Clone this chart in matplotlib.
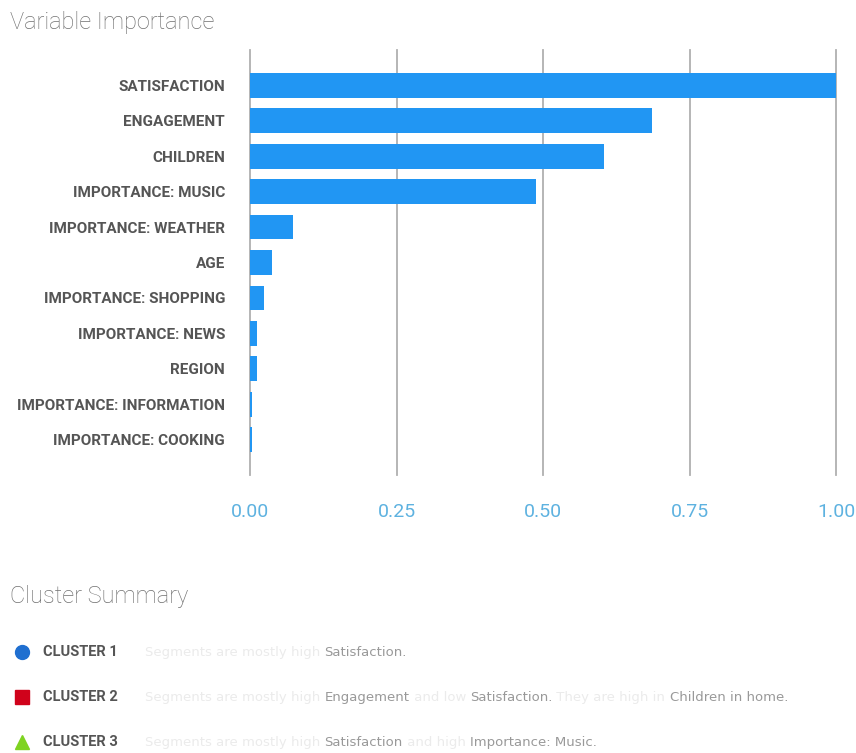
import matplotlib
matplotlib.use('Agg')
import matplotlib.pyplot as plt

# Данные
variables = ['SATISFACTION', 'ENGAGEMENT', 'CHILDREN', 'IMPORTANCE: MUSIC',
             'IMPORTANCE: WEATHER', 'AGE', 'IMPORTANCE: SHOPPING', 'IMPORTANCE: NEWS',
             'REGION', 'IMPORTANCE: INFORMATION', 'IMPORTANCE: COOKING']
importance = [1.00, 0.686, 0.604, 0.488, 0.073, 0.038, 0.024, 0.012, 0.012, 0.004, 0.003]
x_ticks = [0.0, 0.25, 0.5, 0.75, 1.0]

clusters = ['CLUSTER 1', 'CLUSTER 2', 'CLUSTER 3']
cluster_colors = ['#1f6fd0', '#d0021b', '#7ed321']
cluster_markers = ['o', 's', '^']
# (текст, выделен ли)
cluster_text = [
    [('Segments are mostly high ', False), ('Satisfaction.', True)],
    [('Segments are mostly high ', False), ('Engagement', True), (' and low ', False),
     ('Satisfaction.', True), (' They are high in ', False), ('Children in home.', True)],
    [('Segments are mostly high ', False), ('Satisfaction', True), (' and high ', False),
     ('Importance: Music.', True)],
]

plt.rcParams['font.family'] = ['Roboto', 'DejaVu Sans']

fig = plt.figure(figsize=(8.56, 7.53), dpi=100)
ax = fig.add_axes([250 / 856, 1 - 475 / 753, 586 / 856, 425 / 753])

ypos = list(range(len(variables)))
ax.barh(ypos, importance, height=0.7, color='#2196F3', zorder=3)
ax.set_ylim(len(variables), -1)
ax.set_xlim(0, 1)
ax.set_xticks(x_ticks)
ax.set_xticklabels([f'{t:.2f}' for t in x_ticks], color='#5eb2e0', fontsize=14, fontweight='normal')
ax.set_yticks(ypos)
ax.set_yticklabels(variables, fontsize=11, fontweight='bold', color='#555555')
ax.tick_params(axis='x', length=0, pad=20)
ax.tick_params(axis='y', length=0, pad=18)
for t in x_ticks:
    ax.axvline(t, color='#b0b0b0', linewidth=1.3, zorder=1, clip_on=False)
for s in ax.spines.values():
    s.set_visible(False)

fig.text(10 / 856, 1 - 23 / 753, 'Variable Importance', fontsize=17, fontweight='light',
         color='#707070', va='center', ha='left')
fig.text(10 / 856, 1 - 596 / 753, 'Cluster Summary', fontsize=17, fontweight='light',
         color='#707070', va='center', ha='left')

row_y = [652, 697, 742]
for i, name in enumerate(clusters):
    y = 1 - row_y[i] / 753
    fig.lines.append(plt.Line2D([22 / 856], [y], marker=cluster_markers[i], markersize=10,
                                color=cluster_colors[i], linestyle='None',
                                transform=fig.transFigure))
    fig.text(43 / 856, y, name, fontsize=10.5, fontweight='bold', color='#555555', va='center')
    base = y - 4 / 753
    last = None
    for txt, strong in cluster_text[i]:
        col = '#999999' if strong else '#ebebeb'
        if last is None:
            last = fig.text(145 / 856, base, txt, fontsize=9.5, color=col, va='baseline',
                            family='DejaVu Sans')
        else:
            # следующий кусок сразу после предыдущего, на той же базовой линии
            last = ax.annotate(txt, xy=(1, 0), xycoords=last, xytext=(0, 0),
                               textcoords='offset points', fontsize=9.5, color=col,
                               va='bottom', ha='left', family='DejaVu Sans',
                               annotation_clip=False)

fig.savefig('out.png', dpi=100, facecolor='white')
